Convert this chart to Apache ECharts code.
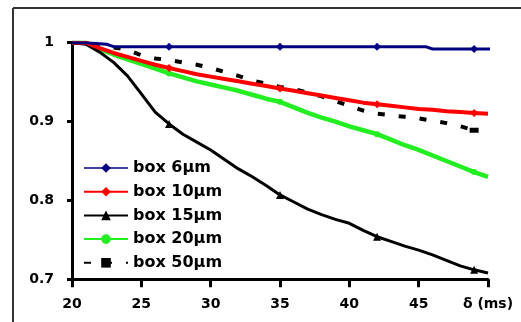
<!DOCTYPE html>
<html><head><meta charset="utf-8">
<script src="https://cdn.jsdelivr.net/npm/echarts@6/dist/echarts.min.js"></script>
<style>html,body{margin:0;padding:0;background:#fff}#c{width:521px;height:322px}</style>
</head><body><div id="c"></div>
<script>
const seriesNames = ['box 6µm','box 10µm','box 15µm','box 20µm','box 50µm'];
const xTicks = [20,25,30,35,40,45,50];
const markerTimes = [27,35,42,49];

const t6 = [20,21,22.5,23,27,35,42,45.5,46,49,50.3];
const v6 = [1.0,1.0,0.998,0.995,0.995,0.995,0.995,0.995,0.992,0.992,0.992];

const tGrid = [20,21,22,23,24,25,26,27,28,29,30,31,32,33,34,35,36,37,38,39,40,41,42,43,44,45,46,47,48,49,50];
const v10 = [1.0,1.0,0.993,0.987,0.982,0.977,0.972,0.968,0.964,0.960,0.957,0.954,0.951,0.948,0.945,0.942,0.939,0.936,0.933,0.930,0.927,0.924,0.922,0.920,0.918,0.916,0.915,0.913,0.912,0.911,0.910];
const v15 = [1.0,0.998,0.988,0.975,0.958,0.935,0.912,0.897,0.884,0.874,0.864,0.852,0.840,0.830,0.819,0.807,0.798,0.789,0.782,0.776,0.771,0.762,0.754,0.748,0.742,0.737,0.731,0.724,0.717,0.712,0.708];
const v20 = [1.0,1.0,0.992,0.985,0.979,0.973,0.967,0.961,0.956,0.951,0.947,0.943,0.939,0.934,0.929,0.925,0.918,0.911,0.905,0.900,0.894,0.889,0.884,0.877,0.870,0.864,0.857,0.850,0.843,0.836,0.830];
const t50 = [20,21,22,23,24,25,26,27,28,29,30,31,32,33,34,35,36,37,38,39,40,41,42,43,44,45,46,47,48,49];
const v50 = [1.0,0.999,0.997,0.994,0.991,0.984,0.980,0.978,0.975,0.972,0.968,0.963,0.958,0.952,0.948,0.944,0.941,0.937,0.932,0.926,0.920,0.914,0.910,0.908,0.906,0.904,0.901,0.898,0.894,0.889];

function pairs(t, v){ return t.map((x,i)=>[x, v[i]]); }
function markSize(sz){ return function(val){ return markerTimes.indexOf(val[0]) >= 0 ? sz : 0; }; }

const chart = echarts.init(document.getElementById('c'), null, {renderer:'canvas'});
const font = 'DejaVu Sans';
chart.setOption({
  animation:false,
  backgroundColor:'#fff',
  grid:{left:72, right:33, top:42.7, bottom:42.7, containLabel:false},
  graphic:[
    {type:'line', shape:{x1:13,y1:8,x2:521,y2:8}, style:{stroke:'#333',lineWidth:2}},
    {type:'line', shape:{x1:13,y1:8,x2:13,y2:322}, style:{stroke:'#333',lineWidth:2}}
  ],
  xAxis:{type:'value', min:20, max:50, interval:5,
    axisLine:{lineStyle:{color:'#000',width:3}},
    axisTick:{show:true, length:8, lineStyle:{color:'#000',width:3}},
    splitLine:{show:false},
    axisLabel:{margin:18, color:'#000', fontFamily:font, fontWeight:'bold', fontSize:14,
      formatter:function(v){ return v===50 ? 'δ (ms)' : String(v); }}
  },
  yAxis:{type:'value', min:0.7, max:1.0, interval:0.1,
    axisLine:{show:true, lineStyle:{color:'#000',width:3}},
    axisTick:{show:true, length:5, lineStyle:{color:'#000',width:3}},
    splitLine:{show:false},
    axisLabel:{margin:18, color:'#000', fontFamily:font, fontWeight:'bold', fontSize:14,
      formatter:function(v){ return v===1 ? '1' : v.toFixed(1); }}
  },
  legend:{orient:'vertical', left:78, top:155, itemWidth:44, itemHeight:12, itemGap:7.7,
    padding:[5,5,5,5],
    textStyle:{color:'#000', fontFamily:font, fontWeight:'bold', fontSize:16},
    data:[
      {name:seriesNames[0], lineStyle:{width:1.5}},
      {name:seriesNames[1]},
      {name:seriesNames[2]},
      {name:seriesNames[3]},
      {name:seriesNames[4]}
    ]},
  series:[
    {name:seriesNames[0], type:'line', data:pairs(t6,v6), color:'#000080',
      lineStyle:{width:3}, symbol:'diamond', symbolSize:markSize(8), showAllSymbol:true, z:5},
    {name:seriesNames[1], type:'line', data:pairs(tGrid,v10), color:'#ff0000',
      lineStyle:{width:4}, symbol:'diamond', symbolSize:markSize(8), showAllSymbol:true, z:4},
    {name:seriesNames[2], type:'line', data:pairs(tGrid,v15), color:'#000000',
      lineStyle:{width:3}, symbol:'triangle', symbolSize:markSize(8), showAllSymbol:true, z:3},
    {name:seriesNames[3], type:'line', data:pairs(tGrid,v20), color:'#22ee22',
      lineStyle:{width:4.5}, symbol:'circle', symbolSize:markSize(6), showAllSymbol:true, z:2},
    {name:seriesNames[4], type:'line', data:pairs(t50,v50), color:'#000000',
      lineStyle:{width:4, type:[7,14]}, symbol:'rect', symbolSize:function(val){ return val[0]===49 ? [9,5] : 0; }, showAllSymbol:true, z:1}
  ]
});
</script></body></html>
